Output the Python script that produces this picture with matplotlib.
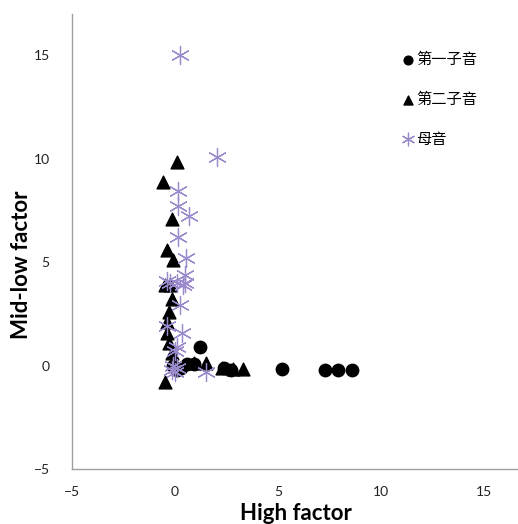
import matplotlib.pyplot as plt

# first consonant (circles)
c1_x = [1.2, 0.6, 0.9, 0.3, 0.1, -0.1, 2.4, 2.7, 5.2, 7.3, 7.9, 8.6]
c1_y = [0.9, 0.1, 0.1, -0.1, -0.2, 0.0, -0.1, -0.2, -0.15, -0.2, -0.2, -0.2]

# second consonant (triangles)
c2_x = [0.1, -0.6, -0.15, -0.4, -0.1, -0.5, -0.25, -0.15, -0.3, -0.4, -0.4,
        -0.3, -0.15, -0.1, -0.5, 0.9, 1.5, 2.3, 2.8, 3.3]
c2_y = [9.85, 8.9, 7.1, 5.6, 5.1, 3.9, 3.9, 3.2, 2.6, 2.1, 1.6,
        1.1, 0.6, 0.15, -0.8, 0.15, 0.15, -0.1, -0.15, -0.15]

# vowels (stars)
v_x = [0.25, 2.05, 0.15, 0.15, 0.7, 0.15, 0.55, 0.5, 0.5, -0.4, 0.1, -0.25,
       0.4, 0.25, 0.35, -0.4, 0.1, 0.0, -0.1, 0.1, 0.0, -0.15, 1.5]
v_y = [15.0, 10.1, 8.45, 7.7, 7.25, 6.2, 5.2, 4.4, 4.0, 4.1, 4.0, 4.0,
       3.9, 2.95, 1.6, 1.9, 0.9, 0.7, 0.0, -0.1, -0.3, -0.2, -0.3]

labels = ["第一子音", "第二子音", "母音"]

plt.rcParams["font.family"] = ["Lato", "DejaVu Sans"]

fig = plt.figure(figsize=(5.18, 5.24), dpi=100)
ax = fig.add_axes([0.139, 0.105, 0.994, 0.868])

ax.scatter(c1_x, c1_y, s=80, marker="o", color="black", label=labels[0], zorder=3)
ax.scatter(c2_x, c2_y, s=85, marker="^", color="black", label=labels[1], zorder=4)
ax.scatter(v_x, v_y, s=170, marker=(6, 2, 0), color="#9a8acb", linewidths=0.9,
           label=labels[2], zorder=5)

ax.set_xlim(-5, 20)
ax.set_ylim(-5, 17)
ax.set_xticks([-5, 0, 5, 10, 15])
ax.set_yticks([-5, 0, 5, 10, 15])
ax.tick_params(length=0, labelsize=10, colors="#222222", pad=12)
ax.tick_params(axis="y", pad=16)
for side in ["top", "right"]:
    ax.spines[side].set_visible(False)
for side in ["left", "bottom"]:
    ax.spines[side].set_color("#a0a0a0")
    ax.spines[side].set_linewidth(1.0)

fig.text(296 / 518, 1 - 513 / 524, "High factor", ha="center", va="center",
         fontsize=16, fontweight="bold")
fig.text(22 / 518, 1 - 265 / 524, "Mid-low factor", ha="center", va="center",
         fontsize=16, fontweight="bold", rotation=90)

leg = ax.legend(loc="upper left", bbox_to_anchor=(396 / 518, 1 - 43 / 524),
                bbox_transform=fig.transFigure, frameon=False,
                prop={"family": ["Noto Sans CJK SC"], "size": 11},
                handlelength=0.6, handletextpad=0.2, labelspacing=1.5,
                borderpad=0, markerscale=0.7)

fig.savefig("out.png", dpi=100)
